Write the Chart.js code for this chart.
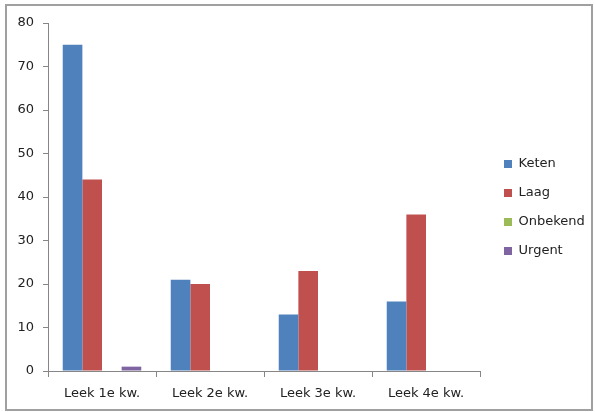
<!DOCTYPE html>
<html>
<head>
<meta charset="utf-8">
<script src="https://cdn.jsdelivr.net/npm/chart.js@4"></script>
<style>
  html, body { margin: 0; padding: 0; background: #fff; }
  #wrap { position: relative; width: 595px; height: 412px; }
  #frame { position: absolute; left: 5px; top: 4px; width: 584px; height: 403px; border: 2px solid #a0a0a0; }
  canvas { position: absolute; left: 0; top: 0; }
</style>
</head>
<body>
<div id="wrap">
  <div id="frame"></div>
  <canvas id="chart" width="595" height="412"></canvas>
</div>
<script>
// Categories and series
const categories = ["Leek 1e kw.", "Leek 2e kw.", "Leek 3e kw.", "Leek 4e kw."];
const keten = [75, 21, 13, 16];
const laag = [44, 20, 23, 36];
const onbekend = [0, 0, 0, 0];
const urgent = [1, 0, 0, 0];
const yTicks = [0, 10, 20, 30, 40, 50, 60, 70, 80];

const axisColor = "#868686";
const fontSpec = { family: "DejaVu Sans", size: 13 };

// Keep the legend column a fixed width and nudge it into place
const legendGap = {
    id: "legendGap",
    afterInit(chart) {
        const legend = chart.legend;
        const origFit = legend.fit.bind(legend);
        legend.fit = function () {
            origFit();
            this.width = 115;
        };
    },
    afterLayout(chart) {
        const legend = chart.legend;
        legend.left += 8;
        legend.top -= 10;
        legend.bottom -= 10;
    },
};

const ctx = document.getElementById("chart").getContext("2d");
new Chart(ctx, {
    type: "bar",
    data: {
        labels: categories,
        datasets: [
            { label: "Keten", data: keten, backgroundColor: "#4F81BD" },
            { label: "Laag", data: laag, backgroundColor: "#C0504D" },
            { label: "Onbekend", data: onbekend, backgroundColor: "#9BBB59" },
            { label: "Urgent", data: urgent, backgroundColor: "#8064A2" },
        ],
    },
    plugins: [legendGap],
    options: {
        responsive: false,
        animation: false,
        layout: { padding: { top: 23, right: 0, bottom: 0, left: 0 } },
        datasets: { bar: { categoryPercentage: 0.727, barPercentage: 1, borderWidth: 0 } },
        plugins: {
            legend: {
                position: "right",
                labels: { boxWidth: 8, boxHeight: 8, padding: 16, color: "#222", font: fontSpec },
            },
            tooltip: { enabled: false },
        },
        scales: {
            x: {
                grid: { display: true, drawOnChartArea: false, drawTicks: true, tickLength: 6, color: axisColor, offset: true },
                border: { display: true, color: axisColor, width: 1 },
                ticks: { color: "#222", font: fontSpec, padding: 9, maxRotation: 0 },
                afterFit: (scale) => { scale.height = 41; },
            },
            y: {
                min: 0,
                max: yTicks[yTicks.length - 1],
                afterBuildTicks: (scale) => { scale.ticks = yTicks.map((v) => ({ value: v })); },
                grid: { display: true, drawOnChartArea: false, drawTicks: true, tickLength: 5, color: axisColor },
                border: { display: true, color: axisColor, width: 1 },
                ticks: { color: "#222", font: fontSpec, padding: 9 },
                afterFit: (scale) => { scale.width = 48; },
            },
        },
    },
});
</script>
</body>
</html>
